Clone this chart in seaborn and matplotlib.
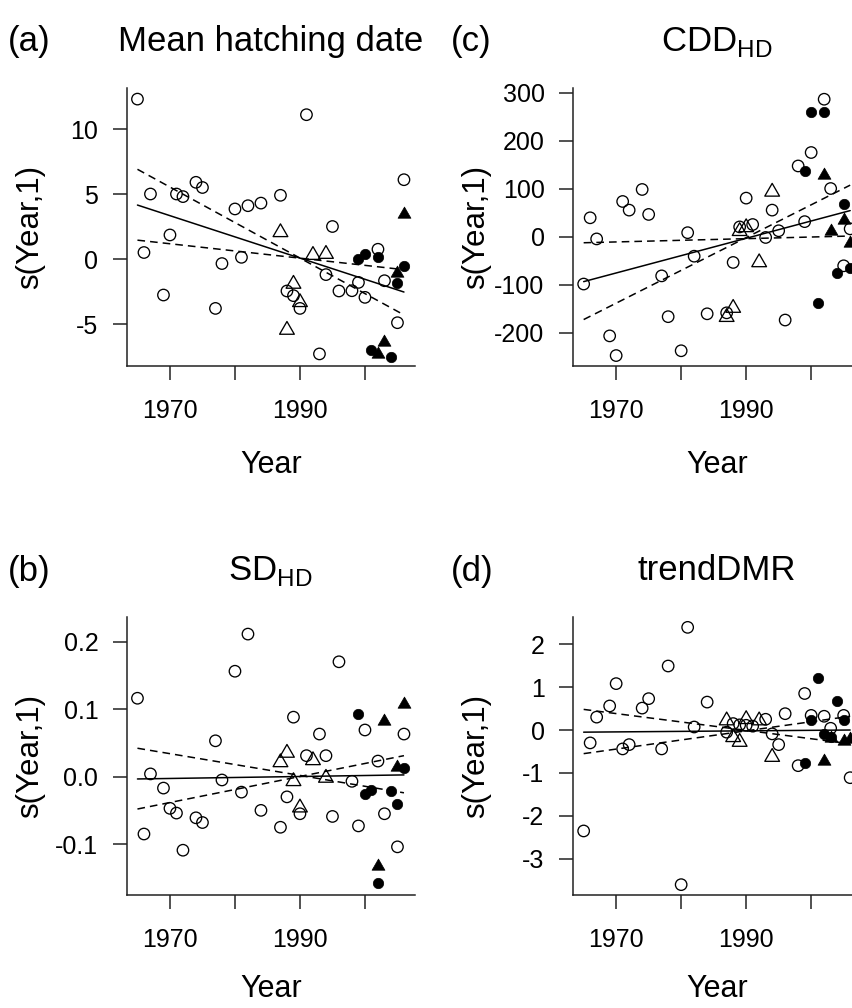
import matplotlib
matplotlib.use("Agg")
import matplotlib.pyplot as plt
import seaborn as sns

# ---------------- data ----------------
# Panel (a): Mean hatching date
a_open_year = [1965, 1991, 1967, 1971, 1972, 1974, 1975, 1980, 1982, 1984, 1987, 2006, 1970, 1966,
               1978, 1981, 1995, 2002, 1994, 1999, 2003, 1996, 1998, 2000, 1988, 1989, 1990, 1969,
               1977, 1993, 2005]
a_open_val = [12.3, 11.1, 5.0, 5.0, 4.8, 5.9, 5.5, 3.85, 4.1, 4.3, 4.9, 6.1, 1.85, 0.5,
              -0.35, 0.13, 2.5, 0.75, -1.2, -1.8, -1.67, -2.46, -2.44, -2.95, -2.46, -2.82, -3.8, -2.77,
              -3.8, -7.3, -4.9]
a_tri_year = [1987, 1992, 1994, 1989, 1990, 1988]
a_tri_val = [2.05, 0.3, 0.38, -1.92, -3.33, -5.46]
a_fcirc_year = [1999, 2000, 2002, 2006, 2005, 2001, 2004]
a_fcirc_val = [0.0, 0.38, 0.13, -0.51, -1.82, -7.0, -7.5]
a_ftri_year = [2006, 2005, 2003, 2002]
a_ftri_val = [3.5, -1.1, -6.4, -7.3]
a_fit = [4.15, -2.54]
a_ci1 = [6.9, -4.3]
a_ci2 = [1.45, -0.82]

# Panel (c): CDD_HD
c_open_year = [1966, 1967, 1965, 1971, 1972, 1974, 1975, 1977, 1981, 1982, 1988, 1990, 1989, 1991,
               1993, 1994, 1995, 1998, 1999, 2000, 2002, 2003, 2006, 2005, 1969, 1970, 1978, 1980,
               1984, 1987, 1996]
c_open_val = [40, -4, -98, 74, 56, 99, 47, -81, 9, -40, -53, 81, 21, 26,
              -1, 56, 13, 148, 32, 176, 287, 101, 17, -60, -206, -247, -166, -237,
              -160, -158, -173]
c_tri_year = [1994, 1992, 1989, 1990, 1988, 1987]
c_tri_val = [94, -53, 12, 20, -148, -167]
c_fcirc_year = [2000, 2002, 1999, 2005, 2004, 2006, 2001]
c_fcirc_val = [260, 260, 138, 69, -74, -65, -137]
c_ftri_year = [2002, 2003, 2005, 2006]
c_ftri_val = [129, 13, 35, -12]
c_fit = [-93, 55]
c_ci1 = [-172, 108]
c_ci2 = [-12, 2]

# Panel (b): SD_HD
b_open_year = [1965, 1966, 1967, 1969, 1970, 1971, 1972, 1974, 1975, 1977, 1978, 1981, 1984, 1987,
               1988, 1990, 1991, 1994, 1995, 1998, 1999, 1980, 1982, 1989, 1993, 1996, 2000, 2002,
               2006, 2003, 2005]
b_open_val = [0.116, -0.085, 0.004, -0.017, -0.047, -0.054, -0.109, -0.061, -0.068, 0.053, -0.005,
              -0.023, -0.05, -0.075, -0.03, -0.055, 0.031, 0.031, -0.059, -0.007, -0.073, 0.156,
              0.211, 0.088, 0.063, 0.17, 0.069, 0.023, 0.063, -0.055, -0.104]
b_tri_year = [1988, 1987, 1992, 1989, 1994, 1990]
b_tri_val = [0.035, 0.021, 0.024, -0.007, -0.002, -0.046]
b_fcirc_year = [1999, 2000, 2001, 2004, 2005, 2006, 2002]
b_fcirc_val = [0.092, -0.026, -0.020, -0.022, -0.040, 0.013, -0.158]
b_ftri_year = [2003, 2006, 2005, 2002]
b_ftri_val = [0.082, 0.107, 0.014, -0.133]
b_fit = [-0.0035, 0.0025]
b_ci1 = [0.042, -0.024]
b_ci2 = [-0.048, 0.031]

# Panel (d): trendDMR
d_open_year = [1965, 1966, 1967, 1969, 1970, 1971, 1972, 1974, 1975, 1977, 1978, 1981, 1982, 1984,
               1987, 1988, 1989, 1990, 1991, 1993, 1994, 1995, 1996, 1998, 1999, 2000, 2002, 2003,
               2005, 2006, 1980]
d_open_val = [-2.35, -0.3, 0.3, 0.56, 1.08, -0.44, -0.34, 0.51, 0.73, -0.44, 1.49, 2.39, 0.07, 0.65,
              -0.05, 0.15, 0.12, 0.11, 0.09, 0.25, -0.09, -0.34, 0.38, -0.83, 0.85, 0.34, 0.32, 0.04,
              0.34, -1.11, -3.6]
d_tri_year = [1987, 1988, 1989, 1990, 1992, 1994]
d_tri_val = [0.22, -0.17, -0.28, 0.25, 0.22, -0.63]
d_fcirc_year = [2001, 2004, 2000, 2005, 1999, 2002, 2003]
d_fcirc_val = [1.2, 0.67, 0.24, 0.24, -0.76, -0.09, -0.17]
d_ftri_year = [2002, 2003, 2005, 2006]
d_ftri_val = [-0.71, -0.18, -0.25, -0.22]
d_fit = [-0.05, 0.0]
d_ci1 = [0.48, -0.32]
d_ci2 = [-0.55, 0.32]

line_years = [1965, 2006]
x_ticks = [1970, 1980, 1990, 2000]
x_ticklabels = ["1970", "", "1990", ""]

a_yticks = [-5, 0, 5, 10]
a_yticklabels = ["-5", "0", "5", "10"]
c_yticks = [-200, -100, 0, 100, 200, 300]
c_yticklabels = ["-200", "-100", "0", "100", "200", "300"]
b_yticks = [-0.1, 0.0, 0.1, 0.2]
b_yticklabels = ["-0.1", "0.0", "0.1", "0.2"]
d_yticks = [-3, -2, -1, 0, 1, 2]
d_yticklabels = ["-3", "-2", "-1", "0", "1", "2"]

titles = ["Mean hatching date", r"CDD$_{\mathregular{HD}}$", r"SD$_{\mathregular{HD}}$", "trendDMR"]
letters = ["(a)", "(c)", "(b)", "(d)"]
x_label = "Year"
y_label = "s(Year,1)"

# ---------------- style ----------------
sns.set_style("ticks")
plt.rcParams['font.family'] = ['Liberation Sans', 'DejaVu Sans']
plt.rcParams['mathtext.fontset'] = 'custom'
plt.rcParams['mathtext.rm'] = 'Liberation Sans'
plt.rcParams['axes.unicode_minus'] = False
plt.rcParams['text.color'] = 'black'
plt.rcParams['xtick.color'] = 'black'
plt.rcParams['ytick.color'] = 'black'

W, H = 853, 1008
fig = plt.figure(figsize=(W / 100, H / 100), dpi=100)

XLIM = (1963.36, 2007.64)
AX_W = (XLIM[1] - XLIM[0]) * 6.5
AX_H = 278

TRI = (3, 0, 0)          # closed equilateral triangle, pointing up
DASH = (0, (5, 3.3))


def add_ax(left, top):
    return fig.add_axes([left / W, 1 - (top + AX_H) / H, AX_W / W, AX_H / H])


def draw(ax, oy, ov, ty, tv, fy, fv, gy, gv, fit, ci1, ci2, ylim, yt, ytl):
    sns.scatterplot(x=oy, y=ov, marker='o', s=68, color='black', facecolors='none',
                    edgecolor='black', linewidth=0.95, ax=ax, zorder=3)
    sns.scatterplot(x=ty, y=tv, marker=TRI, s=150, color='black', facecolors='none',
                    edgecolor='black', linewidth=0.95, ax=ax, zorder=3)
    sns.scatterplot(x=fy, y=fv, marker='o', s=56, color='black', edgecolor='black',
                    linewidth=0.5, ax=ax, zorder=3)
    sns.scatterplot(x=gy, y=gv, marker=TRI, s=115, color='black', edgecolor='black',
                    linewidth=0.5, ax=ax, zorder=3)
    sns.lineplot(x=line_years, y=fit, color='black', linewidth=1.1, ax=ax)
    sns.lineplot(x=line_years, y=ci1, color='black', linewidth=1.1, linestyle=DASH, ax=ax)
    sns.lineplot(x=line_years, y=ci2, color='black', linewidth=1.1, linestyle=DASH, ax=ax)
    ax.set_xlim(*XLIM)
    ax.set_ylim(*ylim)
    ax.set_xticks(x_ticks)
    ax.set_xticklabels(x_ticklabels)
    ax.set_yticks(yt)
    ax.set_yticklabels(ytl)
    ax.set_xlabel("")
    ax.set_ylabel("")
    for s in ['top', 'right']:
        ax.spines[s].set_visible(False)
    for s in ['left', 'bottom']:
        ax.spines[s].set_linewidth(1.1)
        ax.spines[s].set_color('#222222')
    ax.tick_params(axis='both', direction='out', length=10, width=1.1, labelsize=18,
                   color='#222222')
    ax.tick_params(axis='x', pad=14)
    ax.tick_params(axis='y', pad=10.5)
    ax.set_facecolor('none')


def fx(px):
    return px / W


def fy(py):
    return 1 - py / H


panels = [
    (126.8, 88, 8, a_open_year, a_open_val, a_tri_year, a_tri_val, a_fcirc_year, a_fcirc_val,
     a_ftri_year, a_ftri_val, a_fit, a_ci1, a_ci2, (-8.23, 13.154), a_yticks, a_yticklabels),
    (573.0, 88, 451, c_open_year, c_open_val, c_tri_year, c_tri_val, c_fcirc_year, c_fcirc_val,
     c_ftri_year, c_ftri_val, c_fit, c_ci1, c_ci2, (-268.75, 310.4), c_yticks, c_yticklabels),
    (126.8, 617, 8, b_open_year, b_open_val, b_tri_year, b_tri_val, b_fcirc_year, b_fcirc_val,
     b_ftri_year, b_ftri_val, b_fit, b_ci1, b_ci2, (-0.1753, 0.2363), b_yticks, b_yticklabels),
    (573.0, 617, 451, d_open_year, d_open_val, d_tri_year, d_tri_val, d_fcirc_year, d_fcirc_val,
     d_ftri_year, d_ftri_val, d_fit, d_ci1, d_ci2, (-3.841, 2.631), d_yticks, d_yticklabels),
]

for i, p in enumerate(panels):
    left, top, letter_x = p[0], p[1], p[2]
    ax = add_ax(left, top)
    draw(ax, *p[3:])
    cx = left + AX_W / 2
    title_y = top - 46
    label_y = top + AX_H + (99 if top < 300 else 94)
    fig.text(fx(letter_x), fy(title_y), letters[i], fontsize=25, ha='left', va='center')
    fig.text(fx(cx), fy(title_y), titles[i], fontsize=25, ha='center', va='center')
    fig.text(fx(cx), fy(label_y), x_label, fontsize=22, ha='center', va='center')
    fig.text(fx(left - 97), fy(top + AX_H / 2), y_label, fontsize=22.5, ha='center',
             va='center', rotation=90)

fig.savefig("out.png", dpi=100, facecolor='white')
